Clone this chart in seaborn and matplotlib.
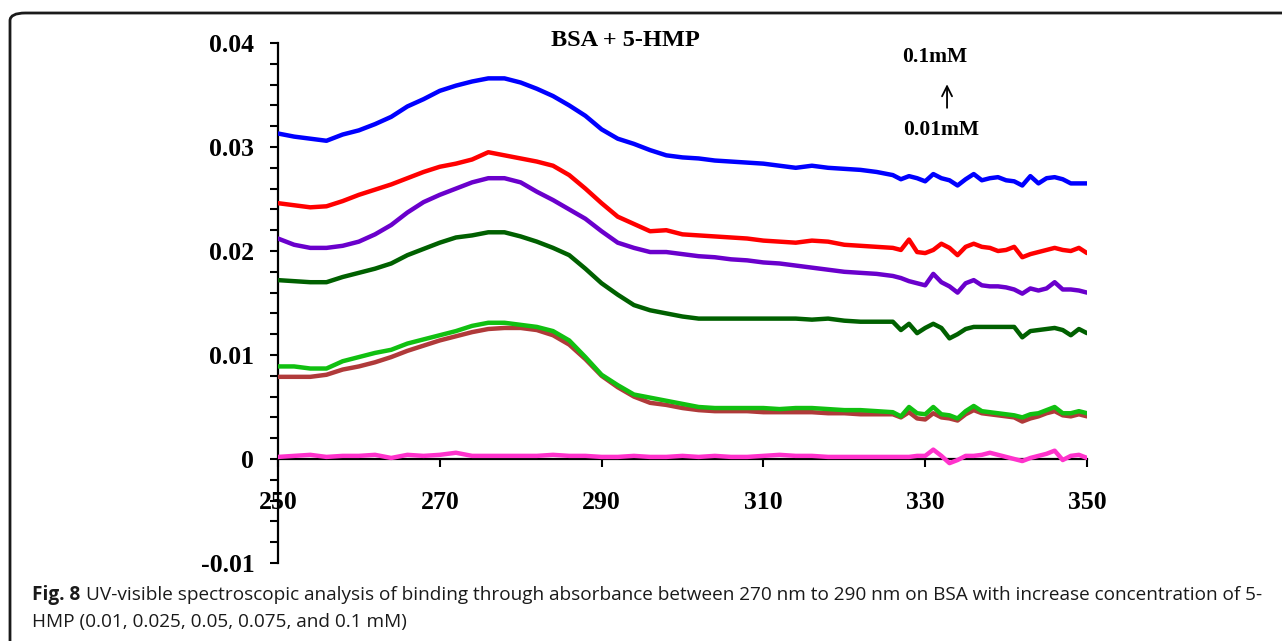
import numpy as np
import pandas as pd
import matplotlib
matplotlib.use("Agg")
import matplotlib.pyplot as plt
from matplotlib.patches import FancyBboxPatch
from matplotlib.ticker import MultipleLocator, FixedLocator, FixedFormatter
import seaborn as sns

# Wavelength grid (nm): 2 nm steps up to 326 nm, then 1 nm steps
wavelength = [250, 252, 254, 256, 258, 260, 262, 264, 266, 268, 270, 272, 274, 276, 278,
              280, 282, 284, 286, 288, 290, 292, 294, 296, 298, 300, 302, 304, 306, 308,
              310, 312, 314, 316, 318, 320, 322, 324, 326,
              327, 328, 329, 330, 331, 332, 333, 334, 335, 336, 337, 338, 339, 340, 341,
              342, 343, 344, 345, 346, 347, 348, 349, 350]

# Absorbance (x 1e-3) for each 5-HMP concentration
abs_blue = [31.3, 31.0, 30.8, 30.6, 31.2, 31.6, 32.2, 32.9, 33.9, 34.6, 35.4, 35.9, 36.3, 36.6, 36.6,
            36.2, 35.6, 34.9, 34.0, 33.0, 31.7, 30.8, 30.3, 29.7, 29.2, 29.0, 28.9, 28.7, 28.6, 28.5,
            28.4, 28.2, 28.0, 28.2, 28.0, 27.9, 27.8, 27.6, 27.3,
            26.9, 27.2, 27.0, 26.7, 27.4, 27.0, 26.8, 26.3, 26.9, 27.4, 26.8, 27.0, 27.1, 26.8, 26.7,
            26.3, 27.2, 26.5, 27.0, 27.1, 26.9, 26.5, 26.5, 26.5]
abs_red = [24.6, 24.4, 24.2, 24.3, 24.8, 25.4, 25.9, 26.4, 27.0, 27.6, 28.1, 28.4, 28.8, 29.5, 29.2,
           28.9, 28.6, 28.2, 27.3, 26.0, 24.6, 23.3, 22.6, 21.9, 22.0, 21.6, 21.5, 21.4, 21.3, 21.2,
           21.0, 20.9, 20.8, 21.0, 20.9, 20.6, 20.5, 20.4, 20.3,
           20.1, 21.1, 19.9, 19.8, 20.1, 20.7, 20.3, 19.6, 20.4, 20.7, 20.4, 20.3, 20.0, 20.1, 20.4,
           19.4, 19.7, 19.9, 20.1, 20.3, 20.1, 20.0, 20.3, 19.8]
abs_purple = [21.2, 20.6, 20.3, 20.3, 20.5, 20.9, 21.6, 22.5, 23.7, 24.7, 25.4, 26.0, 26.6, 27.0, 27.0,
              26.6, 25.7, 24.9, 24.0, 23.1, 21.9, 20.8, 20.3, 19.9, 19.9, 19.7, 19.5, 19.4, 19.2, 19.1,
              18.9, 18.8, 18.6, 18.4, 18.2, 18.0, 17.9, 17.8, 17.6,
              17.4, 17.1, 16.9, 16.7, 17.8, 17.0, 16.6, 16.0, 16.9, 17.2, 16.7, 16.6, 16.6, 16.5, 16.3,
              15.9, 16.4, 16.2, 16.4, 17.0, 16.3, 16.3, 16.2, 16.0]
abs_darkgreen = [17.2, 17.1, 17.0, 17.0, 17.5, 17.9, 18.3, 18.8, 19.6, 20.2, 20.8, 21.3, 21.5, 21.8, 21.8,
                 21.4, 20.9, 20.3, 19.6, 18.3, 16.9, 15.8, 14.8, 14.3, 14.0, 13.7, 13.5, 13.5, 13.5, 13.5,
                 13.5, 13.5, 13.5, 13.4, 13.5, 13.3, 13.2, 13.2, 13.2,
                 12.4, 13.0, 12.1, 12.6, 13.0, 12.6, 11.6, 12.0, 12.5, 12.7, 12.7, 12.7, 12.7, 12.7, 12.7,
                 11.7, 12.3, 12.4, 12.5, 12.6, 12.4, 11.9, 12.5, 12.1]
abs_green = [8.9, 8.9, 8.7, 8.7, 9.4, 9.8, 10.2, 10.5, 11.1, 11.5, 11.9, 12.3, 12.8, 13.1, 13.1,
             12.9, 12.7, 12.3, 11.4, 9.8, 8.1, 7.1, 6.2, 5.9, 5.6, 5.3, 5.0, 4.9, 4.9, 4.9,
             4.9, 4.8, 4.9, 4.9, 4.8, 4.7, 4.7, 4.6, 4.5,
             4.1, 5.0, 4.4, 4.3, 5.0, 4.3, 4.2, 3.9, 4.6, 5.1, 4.6, 4.5, 4.4, 4.3, 4.2,
             4.0, 4.3, 4.4, 4.7, 5.0, 4.4, 4.4, 4.6, 4.4]
abs_brown = [7.9, 7.9, 7.9, 8.1, 8.6, 8.9, 9.3, 9.8, 10.4, 10.9, 11.4, 11.8, 12.2, 12.5, 12.6,
             12.6, 12.4, 11.9, 11.0, 9.6, 8.0, 6.9, 6.0, 5.4, 5.2, 4.9, 4.7, 4.6, 4.6, 4.6,
             4.5, 4.5, 4.5, 4.5, 4.4, 4.4, 4.3, 4.3, 4.3,
             4.0, 4.5, 3.9, 3.8, 4.4, 4.0, 3.9, 3.7, 4.3, 4.7, 4.4, 4.3, 4.2, 4.1, 4.0,
             3.6, 3.9, 4.1, 4.4, 4.6, 4.2, 4.1, 4.3, 4.1]
abs_magenta = [0.2, 0.3, 0.4, 0.2, 0.3, 0.3, 0.4, 0.1, 0.4, 0.3, 0.4, 0.6, 0.3, 0.3, 0.3,
               0.3, 0.3, 0.4, 0.3, 0.3, 0.2, 0.2, 0.3, 0.2, 0.2, 0.3, 0.2, 0.3, 0.2, 0.2,
               0.3, 0.4, 0.3, 0.3, 0.2, 0.2, 0.2, 0.2, 0.2,
               0.2, 0.2, 0.3, 0.3, 0.9, 0.3, -0.4, -0.1, 0.3, 0.3, 0.4, 0.6, 0.4, 0.2, 0.0,
               -0.2, 0.1, 0.3, 0.5, 0.8, -0.1, 0.3, 0.4, 0.1]

y_ticks = [-0.01, 0.0, 0.01, 0.02, 0.03, 0.04]
y_tick_labels = ["-0.01", "0", "0.01", "0.02", "0.03", "0.04"]
x_ticks = [250, 270, 290, 310, 330, 350]

series = [
    (abs_magenta, "#ff33cc"),
    (abs_blue, "#0000ff"),
    (abs_red, "#ff0000"),
    (abs_purple, "#6a00cc"),
    (abs_darkgreen, "#006000"),
    (abs_brown, "#b03a3a"),
    (abs_green, "#11c011"),
]

sns.set_theme(style="white")
plt.rcParams["axes.unicode_minus"] = False

fig = plt.figure(figsize=(12.82, 6.41), dpi=100)
ax = fig.add_axes([0.2168, 0.1217, 0.6311, 0.8112])

for vals, color in series:
    df = pd.DataFrame({"nm": wavelength, "A": np.array(vals) * 1e-3})
    sns.lineplot(data=df, x="nm", y="A", color=color, linewidth=3.2, ax=ax,
                 zorder=4 if color == "#ff33cc" else 3)

ax.set_xlim(250, 350)
ax.set_ylim(-0.01, 0.04)
ax.set_xlabel("")
ax.set_ylabel("")

for side in ("top", "right"):
    ax.spines[side].set_visible(False)
ax.spines["bottom"].set_position(("data", 0))
for side in ("left", "bottom"):
    ax.spines[side].set_color("black")
    ax.spines[side].set_linewidth(1.6)
    ax.spines[side].set_zorder(2)

serif = "Liberation Serif"
ax.xaxis.set_major_locator(FixedLocator(x_ticks))
ax.yaxis.set_major_locator(FixedLocator(y_ticks))
ax.yaxis.set_major_formatter(FixedFormatter(y_tick_labels))
ax.yaxis.set_minor_locator(MultipleLocator(0.002))
ax.tick_params(axis="both", which="both", direction="out", color="black",
               width=1.5, length=6)
ax.tick_params(axis="x", which="major", bottom=True, pad=17)
ax.tick_params(axis="y", which="both", left=True)
ax.tick_params(axis="y", which="major", pad=11)
for lab in ax.get_xticklabels() + ax.get_yticklabels():
    lab.set_fontfamily(serif)
    lab.set_fontweight("bold")
    lab.set_fontsize(18.5)
    lab.set_color("black")

# Panel title and concentration annotation
fig.text(625 / 1282, 1 - 41 / 641, "BSA + 5-HMP", family=serif, weight="bold",
         fontsize=17.5, ha="center", va="center", color="black")
ax.text(331.2, 0.0387, "0.1mM", family=serif, weight="bold", fontsize=15.5,
        ha="center", va="center", color="black", clip_on=False)
ax.text(332.0, 0.0316, "0.01mM", family=serif, weight="bold", fontsize=15.5,
        ha="center", va="center", color="black", clip_on=False)
ax.annotate("", xy=(332.7, 0.0363), xytext=(332.7, 0.0335),
            arrowprops=dict(arrowstyle="->", color="black", lw=1.3,
                            mutation_scale=18), annotation_clip=False)

# Rounded figure frame (only top and left edges fall inside the canvas)
frame = FancyBboxPatch((10 / 1282, -0.2), 1.3, 1.2 - 13 / 641,
                       boxstyle="round,pad=0,rounding_size=0.012",
                       transform=fig.transFigure, fill=False,
                       edgecolor="#1a1a1a", linewidth=2.0)
fig.patches.append(frame)

# Caption
cap_font = "Open Sans"
cap_size = 13.7
t_bold = fig.text(32 / 1282, 1 - 600 / 641, "Fig. 8", family=cap_font, weight="bold",
                  fontsize=cap_size, color="#1a1a1a", va="baseline")
fig.canvas.draw()
bb = t_bold.get_window_extent()
fig.text((bb.x1 + 6) / 1282, 1 - 600 / 641,
         "UV-visible spectroscopic analysis of binding through absorbance between 270 nm to 290 nm "
         "on BSA with increase concentration of 5-",
         family=cap_font, fontsize=cap_size, color="#1a1a1a", va="baseline")
fig.text(32 / 1282, 1 - 627 / 641, "HMP (0.01, 0.025, 0.05, 0.075, and 0.1 mM)",
         family=cap_font, fontsize=cap_size, color="#1a1a1a", va="baseline")

fig.savefig("out.png", dpi=100)
